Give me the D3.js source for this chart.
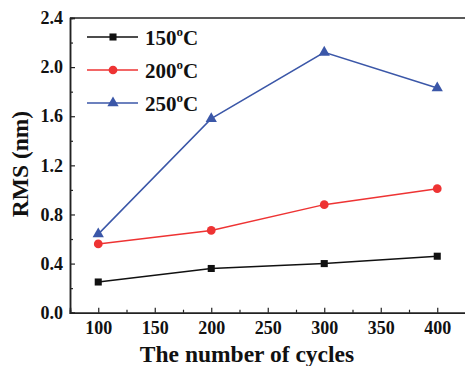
<!DOCTYPE html>
<html>
<head>
<meta charset="utf-8">
<script src="https://cdn.jsdelivr.net/npm/d3@7"></script>
<style>
  body { margin: 0; background: #fff; }
  text { font-family: "Liberation Serif", "Times New Roman", serif; font-weight: bold; }
</style>
</head>
<body>
<svg id="chart"></svg>
<script>
'use strict';

var cycles = [100, 200, 300, 400];
var rms150 = [0.25, 0.36, 0.40, 0.46];
var rms200 = [0.56, 0.67, 0.88, 1.01];
var rms250 = [0.64, 1.58, 2.12, 1.83];
var seriesNames = ['150', '200', '250'];
var xTicks = [100, 150, 200, 250, 300, 350, 400];
var yTicks = [0.0, 0.4, 0.8, 1.2, 1.6, 2.0, 2.4];

var width = 465, height = 366;
var plotLeft = 70, plotTop = 18, plotBottom = 312.7;

var svg = d3.select('#chart')
  .attr('width', width)
  .attr('height', height);

var x = d3.scaleLinear().domain([75, 425]).range([plotLeft, plotLeft + 350 * 1.13]);
var y = d3.scaleLinear().domain([0, 2.4]).range([plotBottom, plotTop]);

// axes, ticks pointing inside
var xAxis = svg.append('g')
  .attr('transform', 'translate(0,' + plotBottom + ')')
  .call(d3.axisBottom(x).tickValues(xTicks).tickSize(-5).tickPadding(9).tickFormat(d3.format('d')));
svg.append('g')
  .attr('transform', 'translate(0,' + plotBottom + ')')
  .call(d3.axisBottom(x).tickValues(d3.range(125, 425, 50)).tickSize(-3).tickFormat(''));

var yAxis = svg.append('g')
  .attr('transform', 'translate(' + plotLeft + ',0)')
  .call(d3.axisLeft(y).tickValues(yTicks).tickSize(-5).tickPadding(7).tickFormat(d3.format('.1f')));
svg.append('g')
  .attr('transform', 'translate(' + plotLeft + ',0)')
  .call(d3.axisLeft(y).tickValues(d3.range(0.2, 2.4, 0.4)).tickSize(-3).tickFormat(''));

svg.append('line')
  .attr('x1', plotLeft).attr('x2', width)
  .attr('y1', plotTop).attr('y2', plotTop)
  .attr('stroke', '#222').attr('stroke-width', 1.5);

svg.selectAll('.domain').attr('stroke', '#222').attr('stroke-width', 1.5);
svg.selectAll('.tick line').attr('stroke', '#222').attr('stroke-width', 1.2);
xAxis.selectAll('text').attr('font-size', 18).attr('fill', '#111');
yAxis.selectAll('text').attr('font-size', 18).attr('fill', '#111');

// axis titles
svg.append('text')
  .attr('x', 247).attr('y', 362)
  .attr('text-anchor', 'middle')
  .attr('font-size', 23.5)
  .attr('fill', '#111')
  .text('The number of cycles');

svg.append('text')
  .attr('transform', 'translate(28,164) rotate(-90)')
  .attr('text-anchor', 'middle')
  .attr('font-size', 23.5)
  .attr('fill', '#111')
  .text('RMS (nm)');

// series
var series = [
  { name: seriesNames[0], values: rms150, color: '#111111', shape: d3.symbolSquare, size: 50 },
  { name: seriesNames[1], values: rms200, color: '#ee3333', shape: d3.symbolCircle, size: 60 },
  { name: seriesNames[2], values: rms250, color: '#3b57a8', shape: d3.symbolTriangle, size: 55 }
];

var line = d3.line()
  .x(function (d, i) { return x(cycles[i]); })
  .y(function (d) { return y(d); });

series.forEach(function (s) {
  svg.append('path')
    .attr('d', line(s.values))
    .attr('fill', 'none')
    .attr('stroke', s.color)
    .attr('stroke-width', 1.5);
  svg.selectAll(null)
    .data(s.values)
    .enter().append('path')
    .attr('d', d3.symbol().type(s.shape).size(s.size))
    .attr('transform', function (d, i) { return 'translate(' + x(cycles[i]) + ',' + y(d) + ')'; })
    .attr('fill', s.color);
});

// legend
var legend = svg.append('g');
series.forEach(function (s, i) {
  var ly = 37 + i * 33;
  legend.append('line')
    .attr('x1', 87).attr('x2', 138)
    .attr('y1', ly).attr('y2', ly)
    .attr('stroke', s.color).attr('stroke-width', 1.5);
  legend.append('path')
    .attr('d', d3.symbol().type(s.shape).size(s.size))
    .attr('transform', 'translate(113,' + ly + ')')
    .attr('fill', s.color);
  var t = legend.append('text')
    .attr('x', 145).attr('y', ly + 8)
    .attr('font-size', 21)
    .attr('fill', '#111');
  t.append('tspan').text(s.name);
  t.append('tspan').attr('font-size', 13).attr('dy', -9).text('o');
  t.append('tspan').attr('dy', 9).text('C');
});
</script>
</body>
</html>
